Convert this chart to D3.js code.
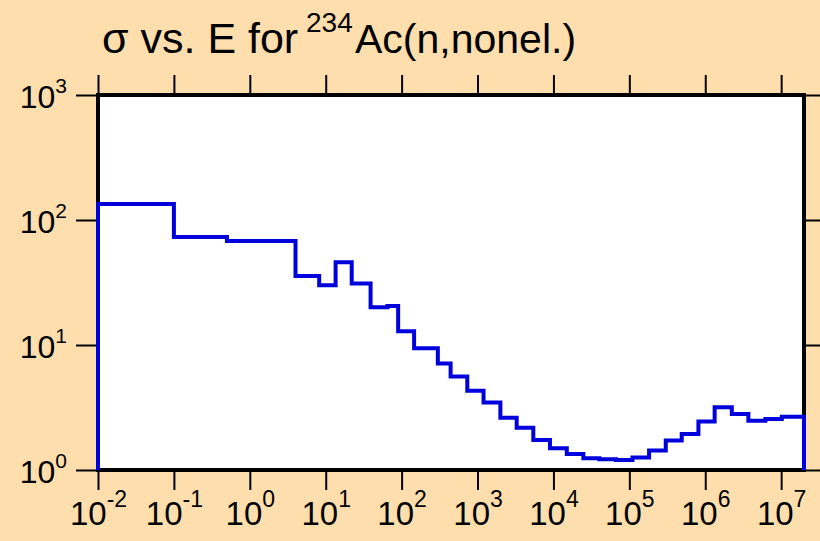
<!DOCTYPE html>
<html>
<head>
<meta charset="utf-8">
<script src="https://cdn.jsdelivr.net/npm/d3@7"></script>
<style>
  body { margin: 0; background: #ffdead; }
  svg { display: block; font-family: "Liberation Sans", Arial, sans-serif; }
</style>
</head>
<body>
<div id="chart"></div>
<script>
// Data: bin edges (eV) and cross section per bin (b)
const binEdges = [0.01, 0.1, 0.5, 4, 8.2, 13.5, 22, 39, 65, 90,
  146, 300, 442, 733, 1200, 2000, 3280, 5430, 9000, 15000,
  24800, 40300, 66800, 110000, 182000, 302000, 490000, 813000, 1.33e6, 2.24e6,
  3.7e6, 6.2e6, 1.02e7, 2e7]
const sigma = [134, 73, 68, 35.6, 30, 46, 31, 20, 20.5, 12.9,
  9.4, 7.1, 5.6, 4.3, 3.46, 2.62, 2.18, 1.74, 1.49, 1.34,
  1.24, 1.22, 1.2, 1.26, 1.43, 1.72, 1.94, 2.44, 3.17, 2.81,
  2.48, 2.56, 2.67]
const xTickExp = [-2, -1, 0, 1, 2, 3, 4, 5, 6, 7]
const yTickExp = [0, 1, 2, 3]

// Initialize
const width = 820
const height = 541
const pL = 98, pR = 804, pT = 95, pB = 470

const svg = d3.select('#chart').append('svg')
  .attr("width", width)
  .attr("height", height)
  .style("background", "#ffdead")

const x = d3.scaleLog().domain([0.01, 2e7]).range([pL, pR])
const y = d3.scaleLog().domain([1, 1000]).range([pB, pT])

// Plot area
svg.append("rect")
  .attr("x", pL).attr("y", pT)
  .attr("width", pR - pL).attr("height", pB - pT)
  .attr("fill", "white")

// Ticks through d3 axes
const xTicks = xTickExp.map(e => Math.pow(10, e))
const yTicks = yTickExp.map(e => Math.pow(10, e))

function styleAxis(g) {
  g.select(".domain").remove()
  g.selectAll(".tick line").attr("stroke", "black").attr("stroke-width", 2)
}

const xAxisB = svg.append("g").attr("transform", "translate(0," + pB + ")")
  .call(d3.axisBottom(x).tickValues(xTicks).tickSize(20).tickFormat(""))
  .call(styleAxis)
svg.append("g").attr("transform", "translate(0," + pT + ")")
  .call(d3.axisTop(x).tickValues(xTicks).tickSize(20).tickFormat(""))
  .call(styleAxis)
const yAxisL = svg.append("g").attr("transform", "translate(" + pL + ",0)")
  .call(d3.axisLeft(y).tickValues(yTicks).tickSize(22).tickFormat(""))
  .call(styleAxis)
svg.append("g").attr("transform", "translate(" + pR + ",0)")
  .call(d3.axisRight(y).tickValues(yTicks).tickSize(20).tickFormat(""))
  .call(styleAxis)

// Tick labels with superscripts
xAxisB.selectAll(".tick").each(function(d, i) {
  const t = d3.select(this).append("text")
    .attr("y", 55).attr("text-anchor", "middle")
    .attr("fill", "black").attr("font-size", 33)
  t.append("tspan").text("10")
  t.append("tspan").attr("font-size", 23).attr("dy", -18).text(xTickExp[i])
})
yAxisL.selectAll(".tick").each(function(d, i) {
  const t = d3.select(this).append("text")
    .attr("x", -31).attr("y", 12).attr("text-anchor", "end")
    .attr("fill", "black").attr("font-size", 32)
  t.append("tspan").text("10")
  t.append("tspan").attr("font-size", 21).attr("dy", -15).text(yTickExp[i])
})

// Frame
svg.append("rect")
  .attr("x", pL).attr("y", pT)
  .attr("width", pR - pL).attr("height", pB - pT)
  .attr("fill", "none").attr("stroke", "black").attr("stroke-width", 4)

// Step line
let pts = [[binEdges[0], 1]]
sigma.forEach((s, i) => pts.push([binEdges[i], s]))
pts.push([binEdges[binEdges.length - 1], sigma[sigma.length - 1]])
pts.push([binEdges[binEdges.length - 1], 1])

const line = d3.line()
  .x(d => x(d[0]))
  .y(d => y(d[1]))
  .curve(d3.curveStepAfter)

svg.append("path")
  .datum(pts)
  .attr("d", line)
  .attr("fill", "none")
  .attr("stroke", "#0000dd")
  .attr("stroke-width", 4)
  .attr("stroke-linejoin", "miter")

// Title
svg.append("text").attr("x", 102).attr("y", 53)
  .attr("font-size", 43)
  .text("σ vs. E for")
svg.append("text").attr("x", 306).attr("y", 32)
  .attr("font-size", 28)
  .text("234")
svg.append("text").attr("x", 355).attr("y", 53)
  .attr("font-size", 41)
  .text("Ac(n,nonel.)")
</script>
</body>
</html>
